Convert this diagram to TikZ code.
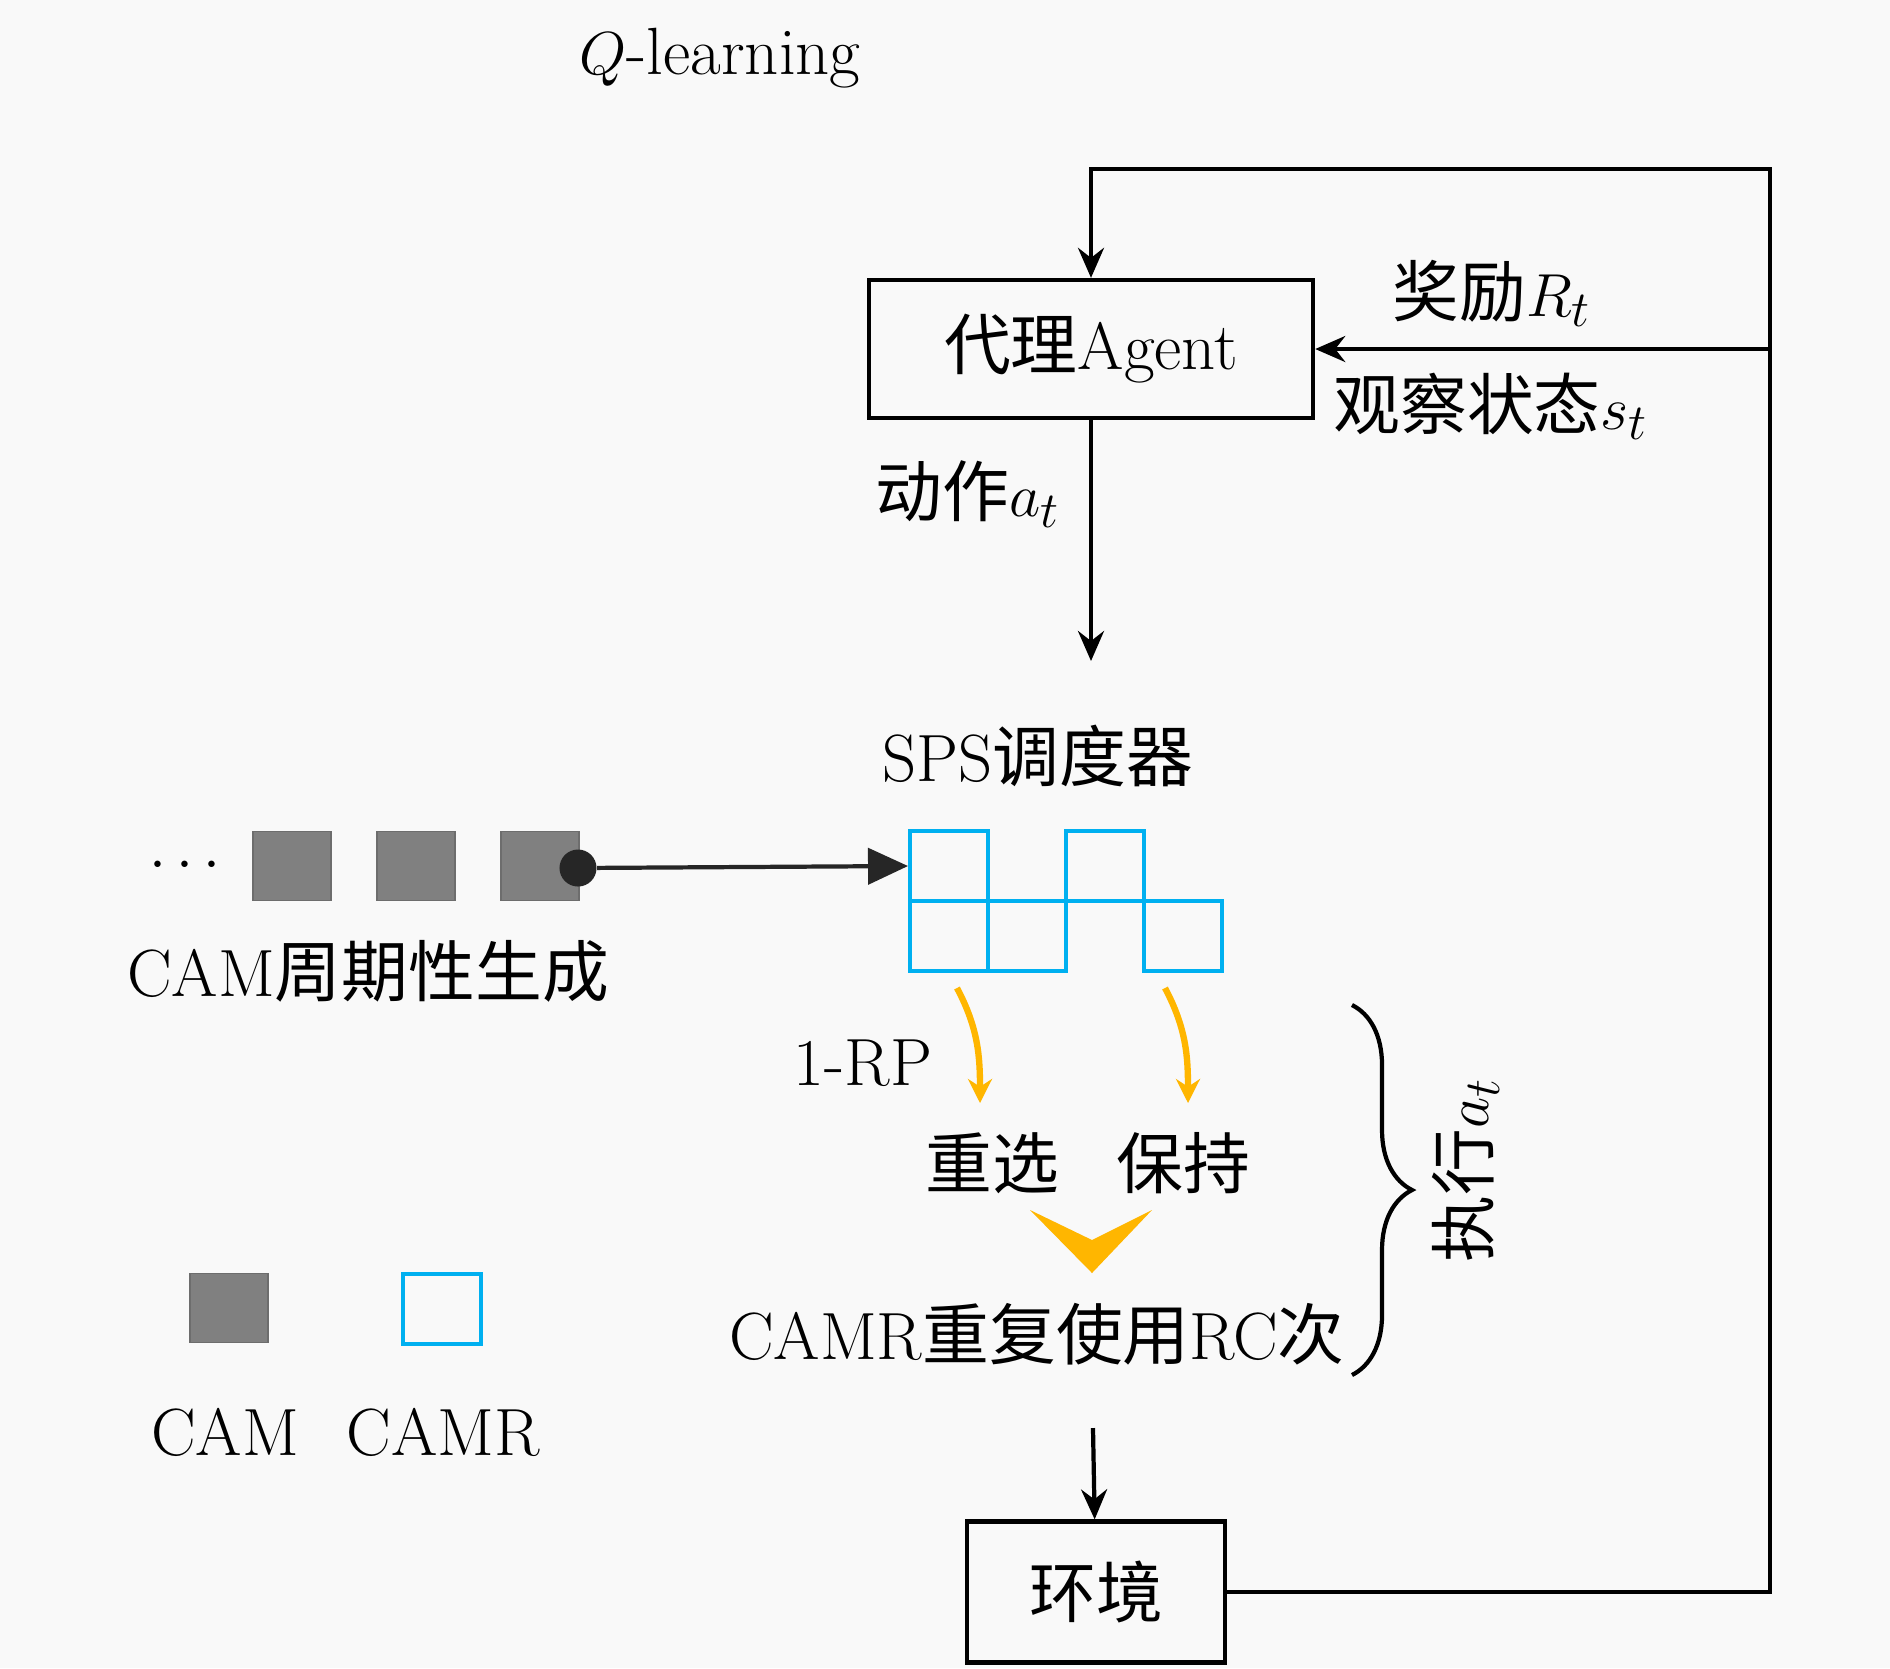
\documentclass[tikz,border=0pt]{standalone}
\usepackage{fontspec}
\usepackage{amsmath}
\usetikzlibrary{arrows.meta,decorations.pathreplacing}
\newfontfamily\cjk{Noto Sans CJK SC}
\definecolor{camrblue}{RGB}{0,176,240}
\definecolor{camgray}{RGB}{128,128,128}
\definecolor{rpgold}{RGB}{255,182,0}
\definecolor{bgpaper}{RGB}{249,249,249}
\begin{document}
\begin{tikzpicture}[x=0.01cm,y=-0.01cm,font=\fontsize{19}{23}\selectfont,box/.style={draw,line width=1.2pt,minimum height=1.38cm},flow/.style={line width=1.2pt,-{Stealth[length=3mm,width=2.6mm,inset=1mm]}},cam/.style={fill=camgray,draw=camgray!85!black,minimum width=0.78cm,minimum height=0.69cm,inner sep=0pt},camr/.style={draw=camrblue,line width=1.1pt,minimum width=0.78cm,minimum height=0.70cm,inner sep=0pt},pick/.style={rpgold,line width=1.8pt,-{Stealth[length=2.4mm,width=2.4mm]}}]
\fill[bgpaper] (0,0) rectangle (1890,1668); \useasboundingbox (0,0) rectangle (1890,1668);
\node (title) at (720,58) {$Q$-learning};
\node[box,minimum width=4.44cm] (agent) at (1091,349) {{\cjk 代理}Agent};
\node (reward) at (1492,293) {{\cjk 奖励}$R_t$}; \node (obs) at (1491,406) {{\cjk 观察状态}$s_t$};
\node (act) at (968,494) {{\cjk 动作}$a_t$}; \coordinate (actend) at (1091,661);
\node (sps) at (1038,756) {SPS{\cjk 调度器}};
\foreach \n/\x/\y in {c1/949/866,c2/949/936,c3/1027/936,c4/1105/866,c5/1183/936} \node[camr] (\n) at (\x,\y) {};
\node (dots) at (190,866) {$\cdots$};
\foreach \n/\x in {m1/292,m2/416,m3/540} \node[cam] (\n) at (\x,866) {};
\node[circle,fill=black!85,minimum size=0.37cm,inner sep=0pt] (src) at (578,868) {};
\draw[line width=1.2pt,black!85,-{Triangle[length=4mm,width=3.6mm]}] (src) -- (c1.west);
\node (gen) at (368,971) {CAM{\cjk 周期性生成}};
\coordinate (p1) at (957,988); \coordinate (q1) at (980,1103); \coordinate (p2) at (1165,988); \coordinate (q2) at (1188,1103);
\node (rp) at (863,1063) {1-RP};
\draw[pick] (p1) to[out=-62,in=90] (q1); \draw[pick] (p2) to[out=-62,in=90] (q2);
\node (resel) at (992,1163) {{\cjk 重选}}; \node (keep) at (1183,1163) {{\cjk 保持}};
\fill[rpgold] (1030,1210) -- (1092,1273) -- (1152,1210) -- (1092,1240) -- cycle;
\node (reuse) at (1037,1334) {CAMR{\cjk 重复使用}RC{\cjk 次}};
\draw[line width=1.2pt,decorate,decoration={brace,amplitude=0.6cm}] (1352,1005) -- (1352,1375);
\node[rotate=90] (exec) at (1466,1170) {{\cjk 执行}$a_t$};
\coordinate (envin) at (1093,1428);
\node[box,minimum width=2.58cm,minimum height=1.41cm] (env) at (1096,1592) {{\cjk 环境}};
\coordinate (loop) at (1770,169);
\draw[flow] (agent) -- (actend); \draw[flow] (envin) -- (env);
\draw[flow] (env.east) -| (loop) -| (agent.north); \draw[flow] (agent.east -| loop) -- (agent.east);
\node[cam] (legcam) at (229,1308) {}; \node[camr] (legcamr) at (442,1309) {};
\node (legcamt) at (225,1432) {CAM}; \node (legcamrt) at (443,1432) {CAMR};
\end{tikzpicture}
\end{document}
